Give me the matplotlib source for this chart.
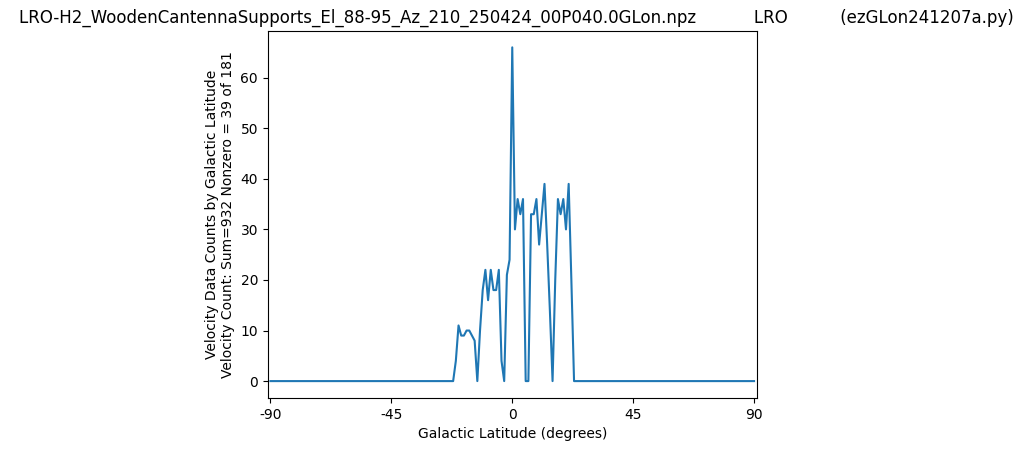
import numpy as np
import matplotlib
matplotlib.use('Agg')
import matplotlib.pyplot as plt

# galactic latitude, one point per degree
latitudes = np.arange(-90, 91)

# nonzero counts, keyed by latitude
nonzero_lat = [-21, -20, -19, -18, -17, -16, -15, -14,
               -12, -11, -10, -9, -8, -7, -6, -5, -4,
               -2, -1, 0, 1, 2, 3, 4,
               7, 8, 9, 10, 11, 12, 13, 14,
               16, 17, 18, 19, 20, 21, 22]
nonzero_counts = [4, 11, 9, 9, 10, 10, 9, 8,
                  10, 18, 22, 16, 22, 18, 18, 22, 4,
                  21, 24, 66, 30, 36, 33, 36,
                  33, 33, 36, 27, 33, 39, 27, 14,
                  20, 36, 33, 36, 30, 39, 20]

counts = np.zeros(len(latitudes))
for lat, c in zip(nonzero_lat, nonzero_counts):
    counts[lat + 90] = c

file_name = 'LRO-H2_WoodenCantennaSupports_El_88-95_Az_210_250424_00P040.0GLon.npz'
title_s = 'LRO'
program_name = '(ezGLon241207a.py)'

fig = plt.figure(figsize=(10.24, 4.51), dpi=100)
ax = fig.add_axes([0.2615, 0.118, 0.4775, 0.814])

ax.plot(latitudes, counts)

ax.set_xlim(-91, 91)
ax.set_xticks([-90, -45, 0, 45, 90])
ax.set_xticklabels(['-90', '-45', '0', '45', '90'])

ax.set_title(file_name + ' ' * 11 + title_s + ' ' * 10 + program_name,
             fontsize=12, x=0.508)
ax.set_xlabel('Galactic Latitude (degrees)')
ax.set_ylabel('Velocity Data Counts by Galactic Latitude\n'
              'Velocity Count: Sum=932 Nonzero = 39 of 181')

plt.savefig('out.png', dpi=100)
